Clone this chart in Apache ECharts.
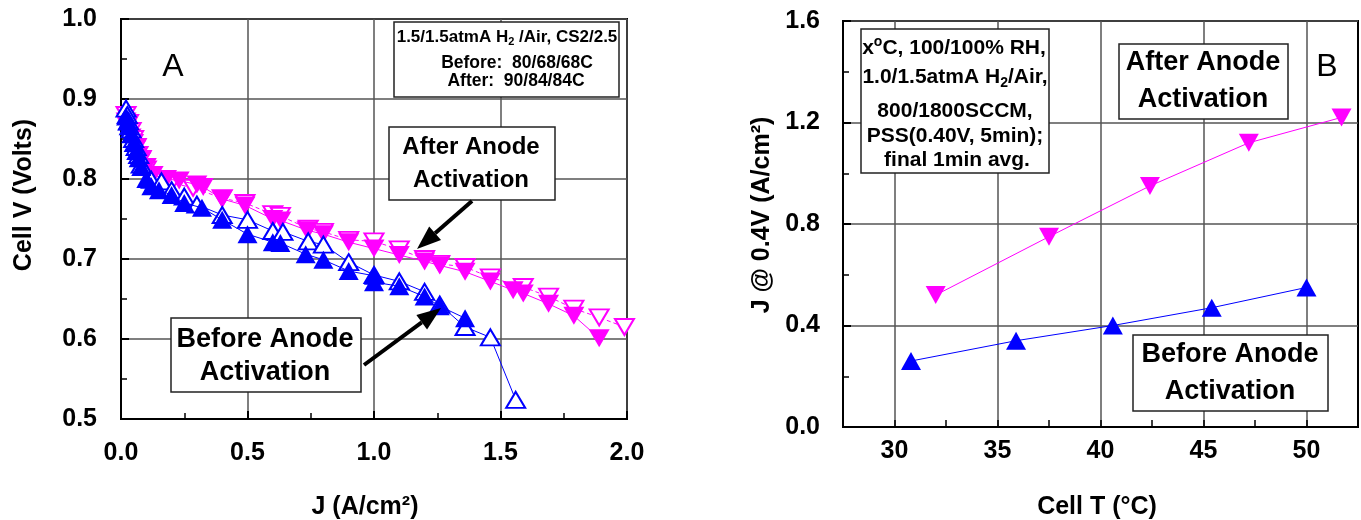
<!DOCTYPE html>
<html>
<head>
<meta charset="utf-8">
<script src="https://cdn.jsdelivr.net/npm/echarts@6/dist/echarts.min.js"></script>
<style>
  html, body { margin: 0; padding: 0; background: #fff; }
  #chart { width: 1361px; height: 520px; }
</style>
</head>
<body>
<div id="chart"></div>
<script>
// ---- panel A: polarization curves, J (A/cm2) vs cell V ----
const jBeforeFilled = [0.02, 0.025, 0.03, 0.04, 0.05, 0.06, 0.07, 0.08, 0.1, 0.12, 0.15, 0.2, 0.25, 0.32, 0.4, 0.5, 0.6, 0.63, 0.73, 0.8, 0.9, 1.0, 1.0, 1.1, 1.2, 1.26, 1.36];
const vBeforeFilled = [0.878, 0.872, 0.866, 0.856, 0.845, 0.835, 0.826, 0.815, 0.8, 0.791, 0.786, 0.78, 0.77, 0.764, 0.749, 0.731, 0.721, 0.72, 0.706, 0.699, 0.685, 0.679, 0.671, 0.666, 0.653, 0.641, 0.626];

const jBeforeOpen = [0.02, 0.025, 0.03, 0.04, 0.05, 0.06, 0.07, 0.08, 0.12, 0.16, 0.2, 0.25, 0.3, 0.4, 0.5, 0.6, 0.64, 0.74, 0.8, 0.9, 1.0, 1.1, 1.2, 1.26, 1.36, 1.46, 1.56];
const vBeforeOpen = [0.888, 0.88, 0.872, 0.862, 0.85, 0.84, 0.83, 0.818, 0.799, 0.797, 0.786, 0.778, 0.768, 0.755, 0.749, 0.735, 0.734, 0.722, 0.718, 0.696, 0.68, 0.672, 0.659, 0.643, 0.615, 0.602, 0.524];

const jAfterFilled = [0.02, 0.025, 0.03, 0.04, 0.05, 0.06, 0.07, 0.08, 0.1, 0.127, 0.18, 0.23, 0.3, 0.325, 0.4, 0.49, 0.6, 0.632, 0.735, 0.8, 0.9, 1.0, 1.1, 1.2, 1.26, 1.36, 1.46, 1.55, 1.59, 1.69, 1.79, 1.89];
const vAfterFilled = [0.872, 0.866, 0.86, 0.852, 0.845, 0.838, 0.83, 0.823, 0.815, 0.805, 0.8, 0.798, 0.793, 0.79, 0.775, 0.767, 0.75, 0.748, 0.736, 0.731, 0.721, 0.713, 0.705, 0.697, 0.692, 0.684, 0.672, 0.661, 0.657, 0.644, 0.629, 0.601];

const jAfterOpen = [0.02, 0.03, 0.04, 0.05, 0.06, 0.08, 0.1, 0.15, 0.2, 0.285, 0.4, 0.49, 0.6, 0.63, 0.74, 0.8, 0.9, 1.0, 1.1, 1.2, 1.26, 1.36, 1.46, 1.59, 1.69, 1.79, 1.89, 1.99];
const vAfterOpen = [0.88, 0.87, 0.86, 0.85, 0.84, 0.825, 0.812, 0.8, 0.795, 0.789, 0.776, 0.77, 0.756, 0.754, 0.738, 0.734, 0.724, 0.722, 0.712, 0.7, 0.694, 0.69, 0.677, 0.665, 0.653, 0.638, 0.627, 0.615];

// ---- panel B: J @ 0.4V vs cell temperature ----
const tBefore = [30.8, 35.9, 40.6, 45.4, 50.0];
const jBefore = [0.26, 0.34, 0.40, 0.47, 0.55];
const tAfter = [32.0, 37.5, 42.4, 47.2, 51.7];
const jAfter = [0.52, 0.75, 0.95, 1.12, 1.22];

// tick labels shown on panel B x axis
const xLabelsB = [30, 35, 40, 45, 50];

const FONT = 'Liberation Sans';
const MAGENTA = '#ff00ff';
const BLUE = '#0000ff';

function pairs(xs, ys) {
  return xs.map((x, i) => [x, ys[i]]);
}

function axisBase(extra) {
  return Object.assign({
    type: 'value',
    axisLine: { show: true, onZero: false, lineStyle: { color: '#000', width: 2 } },
    axisTick: { show: true, inside: true, length: 8, lineStyle: { color: '#000', width: 2 } },
    minorTick: { show: true, splitNumber: 2, length: 6, lineStyle: { color: '#000', width: 1.5 } },
    splitLine: { show: true, lineStyle: { color: '#555', width: 1.5 } },
    axisLabel: {
      color: '#000', fontWeight: 'bold', fontSize: 25, fontFamily: FONT,
      formatter: v => v.toFixed(1)
    }
  }, extra);
}

function box(x, y, w, h) {
  return {
    type: 'rect', z: 100,
    shape: { x: x, y: y, width: w, height: h },
    style: { fill: '#fff', stroke: '#222', lineWidth: 1.5 }
  };
}

function label(text, x, y, size, weight, rotation) {
  return {
    type: 'text', z: 101, x: x, y: y, rotation: rotation || 0,
    style: {
      text: text, fill: '#000', fontSize: size, fontWeight: weight || 'bold', fontFamily: FONT,
      align: 'center', verticalAlign: 'middle',
      rich: {
        sub: { fontSize: Math.round(size * 0.65), fontWeight: 'bold', fontFamily: FONT, padding: [Math.round(size * 0.55), 0, 0, 0] },
        sup: { fontSize: Math.round(size * 0.65), fontWeight: 'bold', fontFamily: FONT, padding: [0, 0, Math.round(size * 0.55), 0] }
      }
    }
  };
}

function arrow(x1, y1, x2, y2) {
  const a = Math.atan2(y2 - y1, x2 - x1), len = 24, half = 9;
  const bx = x2 - len * Math.cos(a), by = y2 - len * Math.sin(a);
  const px = -Math.sin(a) * half, py = Math.cos(a) * half;
  return [
    { type: 'line', z: 102, shape: { x1: x1, y1: y1, x2: bx, y2: by }, style: { stroke: '#000', lineWidth: 4 } },
    { type: 'polygon', z: 102, shape: { points: [[x2, y2], [bx + px, by + py], [bx - px, by - py]] }, style: { fill: '#000' } }
  ];
}

const chart = echarts.init(document.getElementById('chart'));

chart.setOption({
  animation: false,
  backgroundColor: '#fff',
  grid: [
    { left: 121, top: 19, width: 506, height: 400, show: true, borderColor: '#000', borderWidth: 2 },
    { left: 843, top: 21, width: 515, height: 406, show: true, borderColor: '#000', borderWidth: 2 }
  ],
  xAxis: [
    axisBase({ gridIndex: 0, min: 0, max: 2, interval: 0.5,
      axisLabel: { color: '#000', fontWeight: 'bold', fontSize: 25, fontFamily: FONT, margin: 22, formatter: v => v.toFixed(1) } }),
    axisBase({ gridIndex: 1, min: 27.5, max: 52.5, interval: 2.5,
      axisTick: { show: true, inside: true, length: 7, lineStyle: { color: '#000', width: 1.5 } },
      minorTick: { show: false },
      splitLine: { show: true, lineStyle: { color: ['rgba(0,0,0,0)', '#555'], width: 1.5 } },
      axisLabel: { color: '#000', fontWeight: 'bold', fontSize: 25, fontFamily: FONT, margin: 12,
        formatter: v => xLabelsB.indexOf(Math.round(v * 10) / 10) >= 0 ? String(v) : '' } })
  ],
  yAxis: [
    axisBase({ gridIndex: 0, min: 0.5, max: 1.0, interval: 0.1,
      axisLabel: { color: '#000', fontWeight: 'bold', fontSize: 25, fontFamily: FONT, margin: 24, formatter: v => v.toFixed(1) } }),
    axisBase({ gridIndex: 1, min: 0, max: 1.6, interval: 0.4,
      axisLabel: { color: '#000', fontWeight: 'bold', fontSize: 25, fontFamily: FONT, margin: 23, formatter: v => v.toFixed(1) } })
  ],
  series: [
    {
      name: 'After (open)', type: 'line', xAxisIndex: 0, yAxisIndex: 0, z: 2,
      data: pairs(jAfterOpen, vAfterOpen),
      symbol: 'emptyTriangle', symbolRotate: 180, symbolSize: [19, 16],
      itemStyle: { color: MAGENTA, borderWidth: 1.5 },
      lineStyle: { color: MAGENTA, width: 1, type: [4, 3] },
      emphasis: { disabled: true }
    },
    {
      name: 'After', type: 'line', xAxisIndex: 0, yAxisIndex: 0, z: 3,
      data: pairs(jAfterFilled, vAfterFilled),
      symbol: 'triangle', symbolRotate: 180, symbolSize: [21, 18],
      itemStyle: { color: MAGENTA },
      lineStyle: { color: MAGENTA, width: 1 },
      emphasis: { disabled: true }
    },
    {
      name: 'Before (open)', type: 'line', xAxisIndex: 0, yAxisIndex: 0, z: 4,
      data: pairs(jBeforeOpen, vBeforeOpen),
      symbol: 'emptyTriangle', symbolSize: [19, 16],
      itemStyle: { color: BLUE, borderWidth: 1.5 },
      lineStyle: { color: BLUE, width: 1 },
      emphasis: { disabled: true }
    },
    {
      name: 'Before', type: 'line', xAxisIndex: 0, yAxisIndex: 0, z: 5,
      data: pairs(jBeforeFilled, vBeforeFilled),
      symbol: 'triangle', symbolSize: [20, 18],
      itemStyle: { color: BLUE },
      lineStyle: { color: BLUE, width: 1 },
      emphasis: { disabled: true }
    },
    {
      name: 'After B', type: 'line', xAxisIndex: 1, yAxisIndex: 1, z: 3,
      data: pairs(tAfter, jAfter),
      symbol: 'triangle', symbolRotate: 180, symbolSize: [20, 18],
      itemStyle: { color: MAGENTA },
      lineStyle: { color: MAGENTA, width: 1 },
      emphasis: { disabled: true }
    },
    {
      name: 'Before B', type: 'line', xAxisIndex: 1, yAxisIndex: 1, z: 3,
      data: pairs(tBefore, jBefore),
      symbol: 'triangle', symbolSize: [20, 18],
      itemStyle: { color: BLUE },
      lineStyle: { color: BLUE, width: 1 },
      emphasis: { disabled: true }
    }
  ],
  graphic: [
    // axis titles
    label('Cell V (Volts)', 24, 195, 25, 'bold', Math.PI / 2),
    label('J (A/cm²)', 365, 507, 25),
    label('J @ 0.4V (A/cm²)', 762, 215, 25, 'bold', Math.PI / 2),
    label('Cell T (°C)', 1097, 507, 25),
    // panel letters
    label('A', 173, 67, 32, 'normal'),
    label('B', 1327, 67, 32, 'normal'),
    // panel A condition box
    box(394, 22, 225, 75),
    label('1.5/1.5atmA H{sub|2} /Air, CS2/2.5', 507, 37, 17),
    label('Before:  80/68/68C', 517, 63, 17.5),
    label('After:  90/84/84C', 516, 81, 17.5),
    // panel A annotations
    box(389, 127, 166, 73),
    label('After Anode', 471, 147, 24),
    label('Activation', 471, 180, 24),
    ...arrow(472, 201, 417, 249),
    box(171, 318, 190, 74),
    label('Before Anode', 265, 340, 27),
    label('Activation', 265, 373, 27),
    ...arrow(364, 365, 441, 308),
    // panel B condition box
    box(861, 29, 188, 144),
    label('x{sup|o}C, 100/100% RH,', 954, 48, 21),
    label('1.0/1.5atmA H{sub|2}/Air,', 955, 77, 21),
    label('800/1800SCCM,', 955, 111, 21),
    label('PSS(0.40V, 5min);', 955, 136, 21),
    label('final 1min avg.', 957, 160, 21),
    // panel B annotations
    box(1119, 44, 169, 75),
    label('After Anode', 1203, 63, 27),
    label('Activation', 1203, 100, 27),
    box(1133, 335, 195, 76),
    label('Before Anode', 1230, 355, 27),
    label('Activation', 1230, 392, 27)
  ]
});
</script>
</body>
</html>
